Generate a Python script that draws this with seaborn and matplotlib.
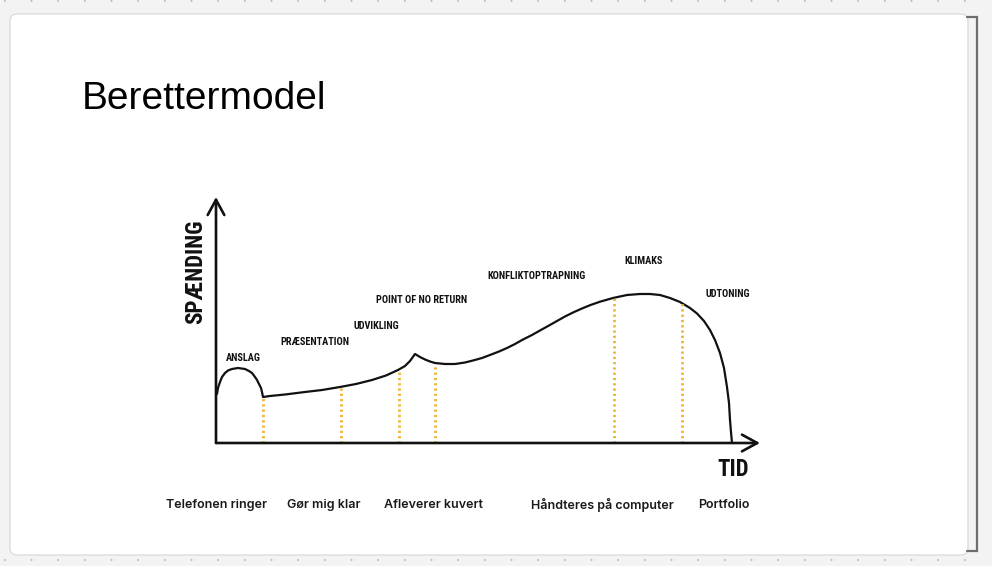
import matplotlib
matplotlib.use("Agg")
import matplotlib.pyplot as plt
from matplotlib.patches import FancyBboxPatch
import seaborn as sns
import pandas as pd

# ---------------- data ----------------
title = "Berettermodel"
y_label = "SPÆNDING"
x_label = "TID"

# curve segments (time, tension)
seg1_time = [1, 2, 4, 6, 9, 12, 16, 22, 29, 33, 36, 39, 41, 43, 45, 46, 47]
seg1_tension = [49, 55, 61, 66, 70, 72.5, 74, 75, 74, 72, 70, 66, 63, 59, 55, 51, 46]
seg2_time = [54, 69, 89, 106, 124, 140, 156, 170, 182, 189, 194, 199]
seg2_tension = [47, 48.5, 51, 53, 56, 59, 63, 67.5, 73, 77, 82, 89]
seg3_time = [204, 209, 214, 219, 229, 239, 249, 257, 266, 274, 283, 291, 299, 307,
             316, 324, 333, 341, 349, 357, 366, 374, 384, 397, 411, 424, 434, 444,
             454, 464, 474, 481, 488, 494, 499, 504, 508, 511, 513, 514, 515, 516]
seg3_tension = [86, 83.5, 81.5, 80, 79, 79, 80.5, 82.5, 85, 88, 91.5, 95, 99, 103.5,
                108, 112.5, 117.5, 122, 126.5, 130.5, 134.5, 137.8, 141.3, 145, 148, 149, 149, 148,
                145, 141, 135, 129.5, 122, 113, 103, 90, 75, 56, 40, 23, 11, 0]

# dotted phase markers
marker_time = [47, 125, 183, 219, 398, 466]
marker_tension = [46, 56, 72, 79, 145, 141]

# phase names
phase_names = ["ANSLAG", "PRÆSENTATION", "UDVIKLING", "POINT OF NO RETURN",
               "KONFLIKTOPTRAPNING", "KLIMAKS", "UDTONING"]
phase_time = [27, 99, 160, 206, 320, 428, 512]
phase_tension = [85, 101, 117, 143, 167, 182, 149]

# events on the time line
event_names = ["Telefonen ringer", "Gør mig klar", "Afleverer kuvert",
               "Håndteres på computer", "Portfolio"]
event_time = [1, 108, 217, 386, 508]

# ---------------- style ----------------
sns.set_theme(style="white")
plt.rcParams["font.family"] = ["Liberation Sans", "DejaVu Sans"]

W, H = 992, 566
fig = plt.figure(figsize=(W / 100, H / 100), dpi=100)
fig.patch.set_facecolor("#f3f3f3")

# background "slide" card
bg = fig.add_axes([0, 0, 1, 1])
bg.set_xlim(0, W)
bg.set_ylim(H, 0)
bg.axis("off")
bg.add_patch(FancyBboxPatch((10, 14), 958, 541,
                            boxstyle="round,pad=0,rounding_size=7",
                            facecolor="white", edgecolor="#d6d6d6", linewidth=0.8))
bg.plot([967, 977, 977, 967], [17, 17, 551, 551], color="#6e6e6e", lw=1.6,
        solid_joinstyle="miter")
bg.hlines([1, 560], 4, 990, colors="#b5b5b5", lw=1.2, linestyles=(0, (1, 15)))

# chart axes
ax = fig.add_axes([216 / W, (H - 443) / H, 544 / W, 246 / H])
ax.set_xlim(0, 544)
ax.set_ylim(0, 246)
ax.axis("off")
ax.patch.set_alpha(0)

df = pd.DataFrame({
    "tid": seg1_time + seg2_time + seg3_time,
    "spaending": seg1_tension + seg2_tension + seg3_tension,
})
sns.lineplot(data=df, x="tid", y="spaending", ax=ax, color="#111111",
             lw=1.6, sort=False, estimator=None, legend=False,
             solid_joinstyle="round", solid_capstyle="round")

ax.vlines(marker_time, 0, marker_tension, colors="#f0b434", lw=2.0,
          linestyles=(0, (0.8, 1.1)))

# axis arrows
arrow_kw = dict(arrowstyle="->,head_length=0.55,head_width=0.3", lw=1.9,
                color="#111111", mutation_scale=20, shrinkA=0, shrinkB=0)
ax.annotate("", xy=(0, 1), xytext=(0, 0), xycoords="axes fraction",
            textcoords="axes fraction", arrowprops=arrow_kw, annotation_clip=False)
ax.annotate("", xy=(1, 0), xytext=(0, 0), xycoords="axes fraction",
            textcoords="axes fraction", arrowprops=arrow_kw, annotation_clip=False)

cond = ["Roboto Condensed", "Roboto", "DejaVu Sans"]
for name, t, s in zip(phase_names, phase_time, phase_tension):
    ax.text(t, s, name, ha="center", va="center", fontsize=7.4, fontweight="bold",
            family=cond, color="#111111", clip_on=False)

ax.text(-20, 171, y_label, rotation=90, ha="center", va="center", fontsize=16.5,
        fontweight="bold", family=cond, color="#111111", clip_on=False)
ax.text(517, -27, x_label, ha="center", va="center", fontsize=16.5,
        fontweight="bold", family=cond, color="#111111", clip_on=False)

for name, t in zip(event_names, event_time):
    ax.text(t, -62, name, ha="center", va="center", fontsize=9, fontweight="semibold",
            family=["Inter", "DejaVu Sans"], color="#1a1a1a", clip_on=False)

fig.text(82 / W, 1 - 109 / H, title, ha="left", va="baseline", fontsize=28,
         family=["Liberation Sans", "DejaVu Sans"], color="#000000")

fig.savefig("out.png", dpi=100, facecolor=fig.get_facecolor())
